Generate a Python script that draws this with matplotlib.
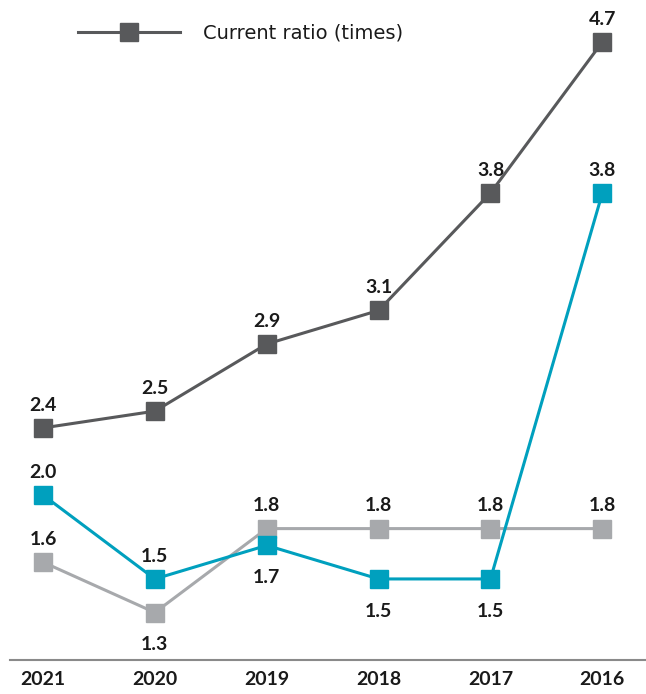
import matplotlib
matplotlib.use('Agg')
import matplotlib.pyplot as plt

# data
years = ['2021', '2020', '2019', '2018', '2017', '2016']
current_ratio = [2.4, 2.5, 2.9, 3.1, 3.8, 4.7]
teal_series = [2.0, 1.5, 1.7, 1.5, 1.5, 3.8]
grey_series = [1.6, 1.3, 1.8, 1.8, 1.8, 1.8]

dark = '#58595b'
teal = '#00a0be'
light = '#a7a9ac'

plt.rcParams['font.family'] = ['Lato', 'DejaVu Sans']

fig = plt.figure(figsize=(6.46, 6.94), dpi=100)
ax = fig.add_axes([10/646, 34/694, 636/646, 660/694])

x = list(range(len(years)))
ax.plot(x, grey_series, color=light, lw=2.2, marker='s', ms=13, zorder=2)
ax.plot(x, teal_series, color=teal, lw=2.2, marker='s', ms=13, zorder=3)
ax.plot(x, current_ratio, color=dark, lw=2.2, marker='s', ms=13, zorder=4,
        label='Current ratio (times)')

lab = dict(ha='center', fontsize=14, fontweight='bold', color='#1a1a1a')

def put_labels(vals, below):
    for i, v in enumerate(vals):
        if below[i]:
            ax.annotate(f'{v:.1f}', (i, v), xytext=(0, -17), textcoords='offset points', va='top', **lab)
        else:
            ax.annotate(f'{v:.1f}', (i, v), xytext=(0, 12.5), textcoords='offset points', va='baseline', **lab)

put_labels(current_ratio, [False] * 6)
put_labels(teal_series, [False, False, True, True, True, False])
put_labels(grey_series, [False, True, False, False, False, False])

ax.set_xlim(-0.295, 5.39)
ax.set_ylim(1.017, 4.95)
ax.set_xticks(x)
ax.set_xticklabels(years, fontsize=14, fontweight='bold', color='#1a1a1a')
ax.tick_params(axis='x', length=0, pad=8)
ax.set_yticks([])
for s in ['top', 'left', 'right']:
    ax.spines[s].set_visible(False)
ax.spines['bottom'].set_color('#8a8a8a')
ax.spines['bottom'].set_linewidth(1.5)

leg = ax.legend(loc='center left', bbox_to_anchor=(0.107, 0.95), frameon=False,
                prop={'family': 'DejaVu Sans', 'size': 14},
                handlelength=5.25, handletextpad=1.2, borderaxespad=0, borderpad=0)
for t in leg.get_texts():
    t.set_color('#1a1a1a')

plt.savefig('out.png', dpi=100)
